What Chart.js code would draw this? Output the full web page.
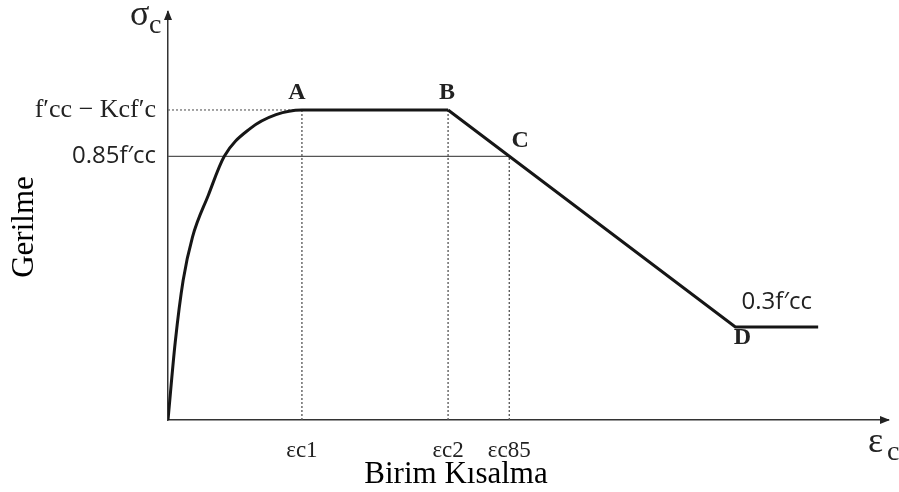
<!DOCTYPE html>
<html>
<head>
<meta charset="utf-8">
<script src="https://cdn.jsdelivr.net/npm/chart.js@4/dist/chart.umd.min.js"></script>
<style>
  html, body { margin: 0; padding: 0; background: #fff; }
  #wrap { width: 899px; height: 492px; }
</style>
</head>
<body>
<div id="wrap"><canvas id="stressChart" width="899" height="492"></canvas></div>
<script>
// characteristic strains and stress levels (stress relative to f'cc)
var strainTicks = [1.86, 3.89, 4.74];
var strainLabels = ["εc1", "εc2", "εc85"];
var stressTicks = [0.85, 1.0];
var stressLabels = ["0.85f′cc", "f′cc − Kcf′c"];

// ascending branch up to A, then plateau A-B
var riseStrain = [0, 0.1, 0.21, 0.34, 0.56, 0.78, 1.14, 1.5, 1.86, 3.89];
var riseStress = [0, 0.25, 0.45, 0.59, 0.725, 0.85, 0.94, 0.985, 1.0, 1.0];

// softening branch B-D and residual plateau
var fallStrain = [3.89, 7.88, 9.03];
var fallStress = [1.0, 0.3, 0.3];

var pointNames = ["A", "B", "C", "D"];
var pointStrain = [1.86, 3.89, 4.74, 7.88];
var pointStress = [1.0, 1.0, 0.85, 0.3];

function pts(xs, ys) {
  return xs.map(function (x, i) { return { x: x, y: ys[i] }; });
}

var serif = "'Liberation Serif', 'Times New Roman', serif";
var sans = "'Open Sans', 'Noto Sans', sans-serif";

var datasets = [
  {
    data: pts(riseStrain, riseStress),
    showLine: true, borderColor: "#161616", borderWidth: 3,
    cubicInterpolationMode: "monotone", pointRadius: 0
  },
  {
    data: pts(fallStrain, fallStress),
    showLine: true, borderColor: "#161616", borderWidth: 3,
    tension: 0, pointRadius: 0
  },
  {
    // plateau level guide
    data: [{ x: 0, y: pointStress[0] }, { x: pointStrain[0], y: pointStress[0] }],
    showLine: true, borderColor: "#666", borderWidth: 1.2,
    borderDash: [2, 2], pointRadius: 0
  },
  {
    // 0.85 level up to C
    data: [{ x: 0, y: pointStress[2] }, { x: pointStrain[2], y: pointStress[2] }],
    showLine: true, borderColor: "#555", borderWidth: 1.3, pointRadius: 0
  }
];

// dotted drops from A, B, C to the strain axis
for (var i = 0; i < 3; i++) {
  datasets.push({
    data: [{ x: pointStrain[i], y: 0 }, { x: pointStrain[i], y: pointStress[i] }],
    showLine: true, borderColor: "#555", borderWidth: 1.3,
    borderDash: [2, 2], pointRadius: 0
  });
}

var annotate = {
  id: "annotate",
  afterDraw: function (chart) {
    var c = chart.ctx, xs = chart.scales.x, ys = chart.scales.y, a = chart.chartArea;
    c.save();
    c.fillStyle = "#222";

    // arrow heads on both axes
    c.beginPath();
    c.moveTo(a.left, a.top - 2);
    c.lineTo(a.left - 4, a.top + 8);
    c.lineTo(a.left + 4, a.top + 8);
    c.closePath();
    c.fill();
    c.beginPath();
    c.moveTo(a.right + 2, a.bottom);
    c.lineTo(a.right - 8, a.bottom - 4);
    c.lineTo(a.right - 8, a.bottom + 4);
    c.closePath();
    c.fill();

    // point letters
    var off = [[-5, -17], [-1, -17], [11, -16], [7, 11]];
    c.font = "bold 24px " + serif;
    c.textAlign = "center";
    c.textBaseline = "middle";
    for (var k = 0; k < pointNames.length; k++) {
      c.fillText(pointNames[k],
        xs.getPixelForValue(pointStrain[k]) + off[k][0],
        ys.getPixelForValue(pointStress[k]) + off[k][1]);
    }

    // residual stress label
    c.font = "24px " + sans;
    c.fillText("0.3f′cc",
      (xs.getPixelForValue(fallStrain[1]) + xs.getPixelForValue(fallStrain[2])) / 2,
      ys.getPixelForValue(fallStress[2]) - 25);

    // axis symbols
    c.textAlign = "left";
    c.textBaseline = "alphabetic";
    c.font = "36px " + serif;
    c.fillText("σ", a.left - 38, a.top + 13);
    c.fillText("ε", a.right - 20, a.bottom + 32);
    c.font = "28px " + serif;
    c.fillText("c", a.left - 19, a.top + 21);
    c.fillText("c", a.right - 1, a.bottom + 40);

    // axis titles
    c.font = "31px " + serif;
    c.fillStyle = "#000";
    c.textAlign = "center";
    c.fillText("Birim Kısalma", xs.getPixelForValue(4.0), a.bottom + 63);
    c.translate(33, (a.top + a.bottom) / 2 + 11);
    c.rotate(-Math.PI / 2);
    c.fillText("Gerilme", 0, 0);
    c.restore();
  }
};

var ctx = document.getElementById("stressChart").getContext("2d");

var stressChart = new Chart(ctx, {
  type: "scatter",
  data: { datasets: datasets },
  options: {
    responsive: false,
    animation: false,
    layout: { padding: { top: 12, right: 11, left: 0, bottom: 0 } },
    plugins: {
      legend: { display: false },
      tooltip: { enabled: false }
    },
    scales: {
      x: {
        type: "linear", min: 0, max: 10,
        grid: { display: false },
        border: { color: "#333", width: 1.5 },
        afterBuildTicks: function (s) {
          s.ticks = strainTicks.map(function (v) { return { value: v }; });
        },
        afterFit: function (s) {
          s.height = 72;
          s.paddingLeft = 0;
          s.paddingRight = 0;
        },
        ticks: {
          autoSkip: false, maxRotation: 0, padding: 9,
          color: "#222",
          font: { family: serif, size: 23 },
          callback: function (v, i) { return strainLabels[i]; }
        }
      },
      y: {
        type: "linear", min: 0, max: 1.316,
        grid: { display: false },
        border: { color: "#333", width: 1.5 },
        afterBuildTicks: function (s) {
          s.ticks = stressTicks.map(function (v) { return { value: v }; });
        },
        afterFit: function (s) {
          s.width = 168;
          s.paddingTop = 0;
          s.paddingBottom = 0;
        },
        ticks: {
          autoSkip: false, padding: 4,
          color: "#222",
          font: function (c) {
            return c.index === 1 ? { family: serif, size: 26 } : { family: sans, size: 24 };
          },
          callback: function (v, i) { return stressLabels[i]; }
        }
      }
    }
  },
  plugins: [annotate]
});
</script>
</body>
</html>
